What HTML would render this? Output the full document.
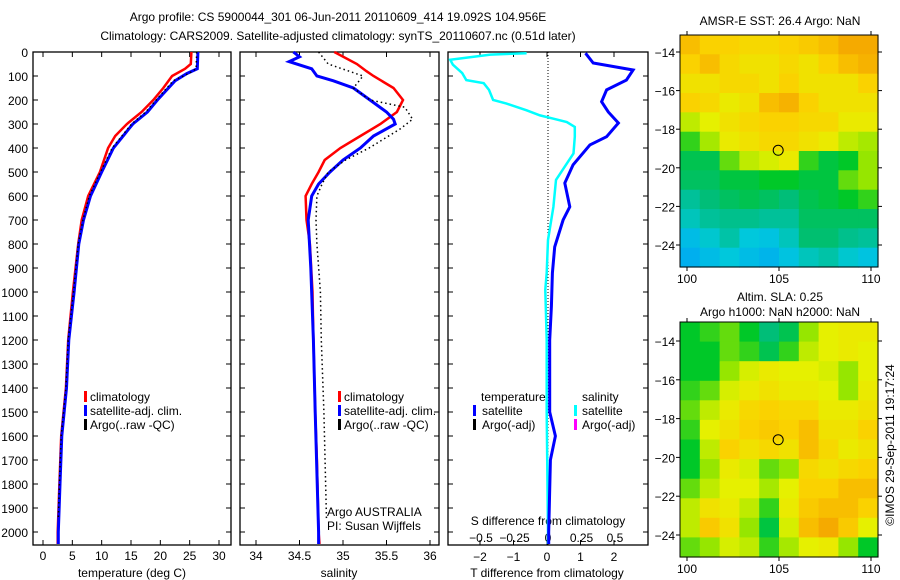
<!DOCTYPE html>
<html><head><meta charset="utf-8"><style>
body{margin:0;background:#fff;}
svg{display:block;font-family:"Liberation Sans",sans-serif;}
text{font-size:12px;fill:#000;}
</style></head><body>
<svg id="fig" width="900" height="580" viewBox="0 0 900 580">
<text x="338" y="21" text-anchor="middle">Argo profile: CS 5900044_301 06-Jun-2011 20110609_414 19.092S 104.956E</text>
<text x="338" y="40" text-anchor="middle">Climatology: CARS2009. Satellite-adjusted climatology: synTS_20110607.nc (0.51d later)</text>
<g id="g"></g>
</svg>
<script>
// ---- data ----
const depthTicks=[0,100,200,300,400,500,600,700,800,900,1000,1100,1200,1300,1400,1500,1600,1700,1800,1900,2000];
const tTicks=[0,5,10,15,20,25,30];
const sTicks=[34,34.5,35,35.5,36];
const dTTicks=[-2,-1,0,1,2];
const dSTicks=[-0.5,-0.25,0,0.25,0.5];
const dSTickLabels=["-0.5","-0.25","0","0.25","0.5"];
const latTicks=[-14,-16,-18,-20,-22,-24];
const lonTicks=[100,105,110];

const tClimDepth=[0,50,70,100,150,200,250,300,350,400,500,600,700,800,1000,1200,1400,1600,1800,2000,2050];
const tClim=[25.3,25.2,24.2,22.0,20.5,18.8,16.8,14.3,12.3,11.1,9.7,7.7,6.6,6.0,5.1,4.3,3.9,3.1,2.8,2.5,2.5];
const tSatDepth=[0,70,90,120,200,250,300,400,500,600,700,800,1000,1200,1400,1600,1800,2000,2050];
const tSat=[26.4,26.3,24.5,22.5,19.5,17.8,15.3,12.0,10.0,8.1,6.9,6.1,5.3,4.4,4.0,3.2,2.9,2.6,2.6];
const tArgoDepth=[0,70,90,120,200,250,300,400,500,600,700,800,1000,1200,1400,1600,1800,1950];
const tArgo=[26.2,26.1,24.8,22.2,19.3,17.5,15.1,11.8,9.8,7.9,6.8,6.0,5.2,4.3,3.9,3.1,2.8,2.6];

const sClimDepth=[0,50,80,100,150,200,250,300,350,400,450,500,550,600,700,800,1000,1200,1500,1700,2000,2050];
const sClim=[34.9,35.16,35.27,35.35,35.58,35.69,35.62,35.43,35.2,34.97,34.79,34.72,34.64,34.57,34.58,34.62,34.65,34.66,34.68,34.70,34.72,34.73];
const sSatDepth=[0,20,40,70,100,120,150,200,250,280,300,350,400,450,500,550,600,700,900,1200,1500,2000,2050];
const sSat=[34.43,34.5,34.38,34.64,34.7,34.89,35.12,35.31,35.5,35.58,35.6,35.35,35.2,35.0,34.85,34.72,34.64,34.6,34.63,34.66,34.68,34.72,34.72];
const sArgoDepth=[0,50,100,150,200,230,280,320,400,450,500,550,600,700,800,1000,1200,1500,1950];
const sArgo=[34.72,34.83,35.23,35.12,35.31,35.71,35.8,35.66,35.3,35.03,34.83,34.76,34.7,34.69,34.7,34.74,34.75,34.78,34.81];

const dTDepth=[5,46,75,117,158,207,250,296,353,387,470,546,645,700,812,921,1060,1200,1500,1600,1700,2000,2050];
const dT=[1.15,1.38,2.57,2.37,1.78,1.63,1.83,2.13,1.78,1.28,0.78,0.53,0.68,0.48,0.23,0.16,0.13,0.08,0.08,0.25,0.1,0.05,0.05];
const dSDepth=[5,11,32,53,88,117,130,158,200,215,243,264,278,292,312,353,423,465,533,645,783,920,990,1200,1500,2000,2050];
const dS=[-0.16,-0.43,-0.73,-0.71,-0.64,-0.61,-0.48,-0.44,-0.41,-0.31,-0.16,-0.06,0.04,0.14,0.2,0.2,0.19,0.14,0.06,0.04,0.0,-0.01,-0.02,-0.01,-0.01,0.0,0.0];

const sstGrid=[
[.85,.8,.8,.78,.78,.8,.82,.85,.9,.9],
[.8,.85,.78,.75,.75,.78,.75,.8,.85,.88],
[.75,.75,.78,.78,.75,.8,.75,.75,.75,.8],
[.8,.78,.72,.75,.85,.88,.8,.75,.75,.75],
[.65,.7,.75,.78,.8,.8,.78,.78,.72,.72],
[.5,.62,.72,.75,.78,.78,.75,.72,.65,.62],
[.4,.4,.55,.65,.68,.72,.5,.42,.45,.6],
[.38,.38,.42,.42,.45,.45,.42,.42,.55,.6],
[.3,.35,.38,.4,.38,.35,.4,.42,.45,.5],
[.25,.3,.32,.32,.3,.3,.38,.38,.38,.38],
[.15,.22,.28,.2,.18,.25,.36,.36,.32,.3],
[.1,.15,.2,.15,.12,.18,.25,.28,.22,.18]];
const slaGrid=[
[.45,.5,.55,.45,.35,.4,.6,.7,.72,.72],
[.45,.45,.55,.5,.4,.5,.65,.7,.72,.7],
[.45,.45,.6,.68,.72,.7,.7,.68,.6,.7],
[.5,.55,.68,.72,.75,.72,.72,.7,.6,.72],
[.55,.65,.72,.78,.8,.78,.78,.72,.72,.75],
[.5,.7,.75,.8,.82,.8,.85,.75,.75,.8],
[.45,.65,.8,.75,.78,.75,.85,.78,.72,.75],
[.45,.6,.72,.68,.55,.6,.78,.75,.78,.8],
[.55,.65,.7,.7,.62,.7,.8,.8,.85,.85],
[.65,.75,.72,.65,.5,.72,.82,.85,.85,.8],
[.65,.82,.75,.6,.42,.68,.85,.9,.82,.7],
[.55,.6,.68,.65,.5,.62,.7,.72,.6,.45]];
const argoLon=104.956, argoLat=-19.092;

// ---- helpers ----
const NS="http://www.w3.org/2000/svg";
const G=document.getElementById('g');
function mk(tag,attrs,parent){const e=document.createElementNS(NS,tag);for(const k in attrs)e.setAttribute(k,attrs[k]);(parent||G).appendChild(e);return e;}
function lin(d0,d1,r0,r1){return v=>r0+(v-d0)*(r1-r0)/(d1-d0);}
const yD=lin(0,2000,52,532);
const PT=52,PB=545;

function panel(x0,x1,name){
  const r=mk('rect',{x:x0,y:PT,width:x1-x0,height:PB-PT,fill:'none',stroke:'#000','stroke-width':1.3});
  
  
  depthTicks.forEach(d=>{const y=yD(d);
    mk('line',{x1:x0,x2:x0+5,y1:y,y2:y,stroke:'#000'});
    mk('line',{x1:x1-5,x2:x1,y1:y,y2:y,stroke:'#000'});});
}
function line(xs,ds,sx,color,w,dash,name){
  const pts=xs.map((v,i)=>sx(v).toFixed(1)+','+yD(ds[i]).toFixed(1)).join(' ');
  const p=mk('polyline',{points:pts,fill:'none',stroke:color,'stroke-width':w});
  if(dash)p.setAttribute('stroke-dasharray',dash);
  
  
}
function txt(x,y,s,anchor,name){const t=mk('text',{x:x,y:y,'text-anchor':anchor||'start'});t.textContent=s;
  
  return t;}
function legMark(x,y,color){mk('rect',{x:x,y:y-10,width:3,height:11,fill:color});}

// ---- panel 1: temperature ----
const xT=lin(0,30,43,219);
panel(33,231,'temperature-panel');
depthTicks.forEach(d=>txt(28,yD(d)+5,String(d),'end','depth-tick-label'));
tTicks.forEach(t=>{const x=xT(t);mk('line',{x1:x,x2:x,y1:PT,y2:PT+5,stroke:'#000'});mk('line',{x1:x,x2:x,y1:PB-5,y2:PB,stroke:'#000'});
  txt(x,560,String(t),'middle','temperature-tick-label');});
txt(132,577,'temperature (deg C)','middle','temperature-axis-title');
line(tClim,tClimDepth,xT,'#f00',2.5,null,'temperature-climatology-line');
line(tSat,tSatDepth,xT,'#00f',3,null,'temperature-satellite-line');
line(tArgo,tArgoDepth,xT,'#000',1.5,'1.5,3','temperature-argo-line');
legMark(84,401,'#f00');txt(90,401,'climatology','start','legend-climatology');
legMark(84,415,'#00f');txt(90,415,'satellite-adj. clim.','start','legend-satellite');
legMark(84,429,'#000');txt(90,429,'Argo(..raw -QC)','start','legend-argo');

// ---- panel 2: salinity ----
const xS=lin(34,36,256,430);
panel(240,439,'salinity-panel');
sTicks.forEach(s=>{const x=xS(s);mk('line',{x1:x,x2:x,y1:PT,y2:PT+5,stroke:'#000'});mk('line',{x1:x,x2:x,y1:PB-5,y2:PB,stroke:'#000'});
  txt(x,560,String(s),'middle','salinity-tick-label');});
txt(339,577,'salinity','middle','salinity-axis-title');
line(sClim,sClimDepth,xS,'#f00',2.5,null,'salinity-climatology-line');
line(sSat,sSatDepth,xS,'#00f',3,null,'salinity-satellite-line');
line(sArgo,sArgoDepth,xS,'#000',1.5,'1.5,3','salinity-argo-line');
legMark(338,401,'#f00');txt(344,401,'climatology','start','legend-climatology-2');
legMark(338,415,'#00f');txt(344,415,'satellite-adj. clim.','start','legend-satellite-2');
legMark(338,429,'#000');txt(344,429,'Argo(..raw -QC)','start','legend-argo-2');
txt(327,516,'Argo AUSTRALIA','start','argo-country-label');
txt(327,530,'PI: Susan Wijffels','start','pi-label');

// ---- panel 3: differences ----
const xdT=lin(0,2,547,614);
const xdS=lin(0,0.5,548,615);
panel(448,648,'difference-panel');
mk('line',{x1:548,x2:548,y1:PT,y2:PB,stroke:'#000','stroke-dasharray':'1,2'});
dTTicks.forEach(t=>{const x=xdT(t);mk('line',{x1:x,x2:x,y1:PT,y2:PT+5,stroke:'#000'});mk('line',{x1:x,x2:x,y1:PB-5,y2:PB,stroke:'#000'});
  txt(x,561,String(t).replace('-','−'),'middle','t-diff-tick-label');});
dSTicks.forEach((s,i)=>txt(xdS(s),542,dSTickLabels[i].replace('-','−'),'middle','s-diff-tick-label'));
txt(548,525,'S difference from climatology','middle','s-diff-axis-title');
txt(547,577,'T difference from climatology','middle','t-diff-axis-title');
line(dS,dSDepth,xdS,'#0ff',2.5,null,'salinity-diff-line');
line(dT,dTDepth,xdT,'#00f',3,null,'temperature-diff-line');
txt(481,401,'temperature','start','legend-temperature-head');
txt(582,401,'salinity','start','legend-salinity-head');
legMark(473,415,'#00f');txt(482,415,'satellite','start','legend-t-satellite');
legMark(473,429,'#000');txt(482,429,'Argo(-adj)','start','legend-t-argo');
legMark(574,415,'#0ff');txt(582,415,'satellite','start','legend-s-satellite');
legMark(574,429,'#f0f');txt(582,429,'Argo(-adj)','start','legend-s-argo');

// ---- maps ----
const stops=[[0,[0,150,255]],[0.2,[0,200,220]],[0.35,[0,190,120]],[0.45,[0,200,40]],[0.6,[150,230,0]],[0.7,[230,240,0]],[0.8,[250,210,0]],[0.9,[245,170,0]],[1,[235,130,0]]];
function cmap(v){for(let i=1;i<stops.length;i++){if(v<=stops[i][0]){const a=stops[i-1],b=stops[i];const f=(v-a[0])/(b[0]-a[0]);
  const c=a[1].map((q,k)=>Math.round(q+(b[1][k]-q)*f));return `rgb(${c})`;}}return 'rgb(235,130,0)';}
function map(grid,x0,x1,y0,y1,lat14y,lat24y,name){
  const xL=lin(100,110,687,871), yL=lin(-14,-24,lat14y,lat24y);
  const lonMin=99.62,lonMax=110.38;
  const lt=-14+(lat14y-y0)/((lat24y-lat14y)/10), lb=-14-(y1-lat14y)/((lat24y-lat14y)/10);
  const nr=grid.length,nc=grid[0].length;
  const g=mk('g',{});
  
  
  for(let r=0;r<nr;r++)for(let c=0;c<nc;c++){
    const la0=lt+(lb-lt)*r/nr, la1=lt+(lb-lt)*(r+1)/nr;
    const lo0=lonMin+(lonMax-lonMin)*c/nc, lo1=lonMin+(lonMax-lonMin)*(c+1)/nc;
    const X=xL(lo0),Y=yL(la0);
    const cell=mk('rect',{x:X.toFixed(1),y:Y.toFixed(1),width:(xL(lo1)-X+0.6).toFixed(1),height:(yL(la1)-Y+0.6).toFixed(1),fill:cmap(grid[r][c])},g);
    
    
  }
  mk('rect',{x:x0,y:y0,width:x1-x0,height:y1-y0,fill:'none',stroke:'#000'});
  latTicks.forEach(l=>{const y=yL(l);mk('line',{x1:x0-4,x2:x0,y1:y,y2:y,stroke:'#000'});mk('line',{x1:x1,x2:x1+4,y1:y,y2:y,stroke:'#000'});
    txt(x0-5,y+5,String(l).replace('-','−'),'end','latitude-tick-label');});
  lonTicks.forEach(l=>{const x=xL(l);mk('line',{x1:x,x2:x,y1:y0-4,y2:y0,stroke:'#000'});mk('line',{x1:x,x2:x,y1:y1,y2:y1+4,stroke:'#000'});
    txt(x,y1+16,String(l),'middle','longitude-tick-label');});
  const c=mk('circle',{cx:xL(argoLon),cy:yL(argoLat),r:5,fill:'none',stroke:'#000'});
  
  
}
map(sstGrid,680,878,35,267,52,245,'sst-map');
map(slaGrid,680,878,322,557,341,535,'sla-map');
txt(780,25,'AMSR-E SST: 26.4  Argo: NaN','middle','sst-map-title');
txt(780,301,'Altim. SLA: 0.25','middle','sla-map-title');
txt(780,316,'Argo h1000: NaN h2000: NaN','middle','sla-map-subtitle');
const cr=txt(0,0,'©IMOS 29-Sep-2011 19:17:24','middle','imos-credit');
cr.setAttribute('transform','translate(894,445) rotate(-90)');
</script>
</body></html>
